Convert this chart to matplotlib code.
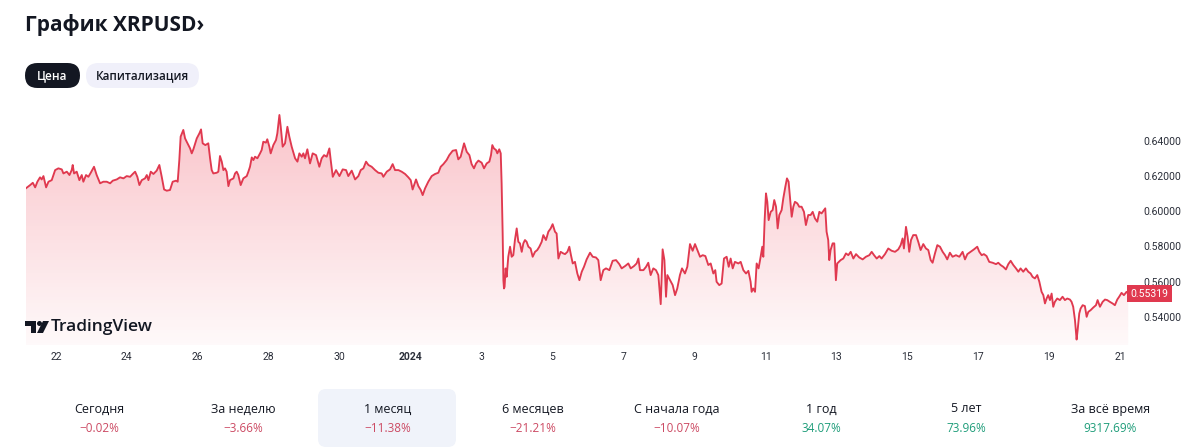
import numpy as np
import matplotlib
matplotlib.use("Agg")
import matplotlib.pyplot as plt
from matplotlib.patches import FancyBboxPatch, Polygon, Circle
from matplotlib import font_manager

# hours since 2023-12-21 00:00 and XRPUSD price
hours = [3.8, 6.6, 8.4, 10.0, 11.5, 13.3, 14.4, 15.6, 17.4, 19.0, 21.2, 23.5, 25.7, 28.0, 29.1, 31.4, 33.2, 34.7,
         35.4, 36.3, 38.1, 39.9, 41.5, 42.6, 44.4, 46.0, 47.6, 49.8, 51.6, 53.9, 56.1, 58.4, 60.7, 62.5, 65.2, 67.4,
         69.7, 71.9, 74.2, 76.0, 77.6, 79.1, 80.5, 82.1, 84.3, 85.5, 86.6, 88.2, 90.0, 92.2, 94.0, 95.6, 97.2, 99.0,
         101.2, 103.0, 105.3, 106.4, 107.5, 108.4, 110.2, 111.4, 112.5, 114.8, 115.9, 117.0, 119.3, 121.1, 122.2,
         123.3, 125.1, 127.1, 128.3, 129.4, 130.5, 132.8, 133.9, 135.0, 136.2, 137.3, 138.4, 139.5, 140.7, 141.8,
         144.1, 145.2, 146.3, 147.4, 149.0, 150.8, 153.1, 154.2, 155.3, 156.5, 157.6, 158.7, 160.3, 162.1, 163.2,
         164.3, 166.1, 167.0, 168.4, 169.3, 171.1, 172.9, 173.8, 175.2, 176.1, 177.4, 179.0, 180.6, 181.9, 183.5,
         185.8, 187.4, 188.7, 190.3, 191.4, 192.5, 194.1, 195.9, 197.7, 200.0, 202.2, 203.8, 205.4, 207.2, 209.0,
         209.9, 211.3, 213.5, 215.8, 218.0, 220.3, 221.8, 224.1, 226.4, 228.6, 230.2, 232.0, 233.8, 235.4, 237.6,
         239.9, 242.1, 244.4, 245.5, 247.8, 250.0, 251.8, 253.4, 255.7, 257.9, 260.2, 262.4, 264.0, 265.3, 267.6,
         269.2, 270.8, 272.1, 273.7, 275.9, 278.2, 280.5, 282.7, 284.3, 286.1, 288.3, 290.1, 292.4, 294.7, 296.2,
         297.8, 300.1, 301.9, 303.7, 305.2, 306.8, 308.2, 309.8, 312.0, 313.6, 315.4, 317.2, 318.3, 319.2, 320.3,
         321.7, 322.6, 323.9, 324.9, 325.5, 326.2, 326.7, 327.1, 327.5, 328.2, 328.9, 330.0, 331.2, 332.3, 333.4,
         334.5, 335.7, 336.8, 337.9, 339.1, 340.2, 341.3, 342.4, 343.6, 345.1, 346.5, 348.1, 349.6, 351.0, 352.6,
         353.7, 355.5, 357.1, 358.7, 360.0, 361.6, 362.7, 363.9, 365.4, 367.2,
         368.4, 370.0, 371.3, 372.4, 373.6, 375.1, 376.7, 378.1, 379.7, 381.2, 383.0, 385.3, 387.1, 389.3, 390.9,
         392.5, 394.3, 396.1, 398.4, 400.6, 402.9, 405.1, 406.7, 409.0, 411.2, 412.8, 415.0, 416.8, 418.0, 419.1,
         421.4, 423.2, 424.7, 426.3, 428.1, 429.9, 431.5, 433.1, 434.4, 435.6, 436.7, 437.6, 439.4, 441.2, 442.8,
         444.3, 446.1, 447.5, 449.5, 451.1, 452.9, 454.7, 456.3, 457.9, 459.7, 461.5, 463.3, 465.3, 466.9, 468.7,
         470.0, 470.9, 472.7, 474.3, 475.9, 477.7, 479.1, 480.4, 481.8, 483.3, 485.6, 487.2, 489.0, 490.8, 492.4,
         493.9, 494.6, 495.7, 496.9, 498.0, 499.3, 500.7, 501.8, 502.5, 503.4, 504.3, 505.2, 506.1, 507.5, 508.8,
         509.9, 511.1, 512.2, 513.3, 514.9, 516.0, 517.4, 518.5, 519.6, 520.5, 521.7, 522.8, 523.9, 525.5, 526.8,
         528.4, 530.0, 531.3, 532.9, 534.5, 535.9, 537.4, 539.0, 540.4, 541.9, 543.5, 544.4, 545.3, 546.4, 547.1,
         548.0, 549.4, 550.5, 551.6, 552.5,
         554.8, 556.6, 558.4, 560.0, 561.6, 563.4, 565.2, 567.4, 569.7, 571.9, 574.2, 575.8, 577.4, 579.2, 581.0,
         582.5, 584.8, 587.0, 589.3, 591.6, 593.8, 595.4, 596.7, 597.6, 599.0, 600.1, 601.2, 602.4, 603.9, 605.8,
         607.3, 608.9, 610.7, 612.5, 614.1, 615.7, 617.0, 618.6, 620.2, 622.0, 623.8, 625.4, 626.9, 628.7, 630.5,
         632.8, 635.1, 637.3, 638.9, 640.5, 642.7, 645.0, 647.2, 648.6, 650.2, 651.7, 653.5, 655.3, 657.6, 659.9,
         661.4, 663.0, 664.8, 666.6, 668.2, 669.8, 671.6, 673.4, 675.0, 676.5, 678.3, 680.1, 681.7, 683.3, 684.6,
         686.2, 687.8, 689.2, 690.7, 691.9, 693.0, 694.1, 695.2, 696.4, 697.5, 698.6, 699.7, 701.3, 703.1, 704.9,
         706.5, 708.1, 709.9, 711.0, 712.1, 713.3, 714.4, 715.1, 716.2, 717.1, 718.5, 720.0, 721.2, 722.3, 723.9,
         725.7, 727.5, 728.6, 730.2, 732.0, 733.6, 735.1, 736.9, 738.7, 740.3, 741.9, 743.2, 744.8, 746.4, 748.2,
         749.3]

price = [.6130, .6148, .6161, .6135, .6167, .6192, .6180, .6199, .6135, .6167, .6176, .6233, .6243, .6237, .6214,
         .6224, .6205, .6233, .6262, .6214, .6224, .6176, .6205, .6167, .6205, .6195, .6218, .6252, .6205, .6158,
         .6167, .6167, .6158, .6173, .6180, .6192, .6186, .6199, .6195, .6211, .6224, .6195, .6148, .6176, .6186,
         .6205, .6176, .6224, .6211, .6230, .6262, .6195, .6123, .6116, .6120, .6167, .6173, .6167, .6290, .6423,
         .6461, .6413, .6394, .6356, .6328, .6351, .6413, .6442, .6464, .6385, .6375, .6385, .6300, .6233, .6214,
         .6218, .6224, .6313, .6281, .6233, .6243, .6224, .6142, .6176, .6186, .6214, .6224, .6205, .6148, .6186,
         .6199, .6224, .6252, .6305, .6290, .6309, .6300, .6328, .6347, .6394, .6389, .6408, .6366, .6328, .6375,
         .6404, .6442, .6546, .6479, .6366, .6385, .6479, .6423, .6366,
         .6300, .6281, .6328, .6309, .6328, .6300, .6351, .6271, .6328, .6318, .6252, .6300, .6318, .6309, .6356,
         .6290, .6195, .6233, .6199, .6237, .6233, .6199, .6230, .6180, .6199, .6233, .6243, .6281, .6262, .6252,
         .6233, .6218, .6214, .6195, .6224, .6237, .6267, .6233, .6233, .6224, .6211, .6192, .6176, .6123, .6180,
         .6142, .6120, .6091, .6129, .6167, .6199, .6211, .6218, .6252, .6267, .6290, .6318, .6343, .6347, .6294,
         .6309, .6385, .6337, .6318, .6267, .6243, .6271, .6287, .6275, .6243, .6271, .6281, .6318, .6375, .6356,
         .6347, .6328, .6351, .6328, .6158, .5873, .5608, .5561, .5570, .5675, .5627, .5741, .5798, .5741, .5750,
         .5836, .5902, .5826, .5817, .5769, .5817, .5836, .5826, .5798, .5788, .5741, .5769, .5779, .5798, .5826,
         .5864, .5836, .5883, .5902, .5926, .5883, .5873, .5731, .5769, .5760,
         .5756, .5769, .5798, .5750, .5703, .5712, .5646, .5608, .5656, .5684, .5726, .5764, .5741, .5737, .5722,
         .5608, .5665, .5675, .5665, .5718, .5722, .5699, .5675, .5688, .5703, .5675, .5688, .5703, .5731, .5665,
         .5665, .5684, .5707, .5637, .5675, .5665, .5637, .5472, .5783, .5722, .5514, .5637, .5608, .5580, .5523,
         .5561, .5637, .5675, .5646, .5684, .5813, .5775, .5813, .5779, .5741, .5750, .5745, .5694, .5703, .5646,
         .5665, .5599, .5580, .5589, .5731, .5741, .5684, .5731, .5675, .5712, .5703, .5712, .5665, .5646, .5661,
         .5599, .5542, .5561, .5542, .5703, .5675, .5741, .5798, .5741, .5949, .6101, .6053, .5949, .5996, .6006,
         .6063, .6025, .5902, .5978, .6006, .6072, .6139, .6186, .6167, .6082, .5968, .6025, .6053, .6044, .6025,
         .6025, .5996, .5921, .5978, .5978, .5996, .5959, .5940, .5996, .5987, .6006, .6016, .5883, .5836, .5722,
         .5779, .5817, .5817, .5608, .5703,
         .5722, .5731, .5760, .5750, .5769, .5731, .5756, .5737, .5726, .5741, .5750, .5769, .5750, .5731, .5745,
         .5731, .5756, .5788, .5775, .5769, .5783, .5807, .5845, .5788, .5911, .5854, .5769, .5836, .5864, .5864,
         .5826, .5779, .5813, .5788, .5779, .5722, .5707, .5760, .5807, .5798, .5769, .5750, .5726, .5764, .5741,
         .5750, .5741, .5769, .5726, .5756, .5769, .5783, .5798, .5769, .5750, .5756, .5745, .5712, .5707, .5699,
         .5707, .5694, .5684, .5669, .5699, .5718, .5694, .5675, .5656, .5675, .5656, .5675, .5656, .5646, .5627,
         .5618, .5637, .5599, .5542, .5523, .5476, .5504, .5523, .5495, .5532, .5457, .5485, .5504, .5495, .5514,
         .5495, .5504, .5498, .5485, .5457, .5381, .5271, .5324, .5419, .5447, .5466, .5461, .5400, .5428, .5438,
         .5453, .5466, .5495, .5457, .5485, .5498, .5495, .5485, .5476, .5466, .5498, .5514, .5536, .5523, .5542,
         .5532]

last_price = "0.55319"
y_ticks = [0.54, 0.56, 0.58, 0.60, 0.62, 0.64]
x_tick_hours = [24, 72, 120, 168, 216, 264, 312, 360, 408, 456, 504, 552, 600, 648, 696, 744]
x_tick_labels = ["22", "24", "26", "28", "30", "2024", "3", "5", "7", "9", "11", "13", "15", "17", "19", "21"]

periods = ["Сегодня", "За неделю", "1 месяц", "6 месяцев", "С начала года", "1 год", "5 лет", "За всё время"]
changes = [-0.02, -3.66, -11.38, -21.21, -10.07, 34.07, 73.96, 9317.69]

names = {f.name for f in font_manager.fontManager.ttflist}
ui_font = ["Open Sans", "DejaVu Sans"] if "Open Sans" in names else ["DejaVu Sans"]
tick_font = ["Liberation Sans Narrow", "DejaVu Sans"] if "Liberation Sans Narrow" in names else ["Roboto", "DejaVu Sans"]
plt.rcParams["font.family"] = ui_font

W, H = 1200, 447
red = "#e0394f"
fig = plt.figure(figsize=(W / 100, H / 100), dpi=100)
fig.patch.set_facecolor("white")

# chart area in pixels: x 26..1135, y 100..345
ax = fig.add_axes([26 / W, 1 - 345 / H, (1135 - 26) / W, 245 / H])
ax.set_facecolor("white")
x0, x1 = 3.8, 753.9
y0, y1 = 0.5240, 0.6631

# gradient fill under the line
grad = np.linspace(0.03, 0.30, 256).reshape(-1, 1)
rgba = np.zeros((256, 1, 4))
rgba[..., 0] = 0.93
rgba[..., 1] = 0.22
rgba[..., 2] = 0.30
rgba[..., 3] = grad
poly = ax.fill_between(hours, price, y0, facecolor="none", edgecolor="none")
img = ax.imshow(rgba, extent=[x0, x1, y0, 0.655], origin="lower", aspect="auto", zorder=1)
img.set_clip_path(poly.get_paths()[0], transform=ax.transData)
ax.set_xlim(x0, x1)
ax.set_ylim(y0, y1)

ax.plot(hours, price, color=red, lw=1.35, zorder=3, solid_joinstyle="round")

for s in ax.spines.values():
    s.set_visible(False)
ax.yaxis.tick_right()
ax.set_yticks(y_ticks)
ax.set_yticklabels([f"{v:.5f}" for v in y_ticks], fontsize=7.5, color="#2a2e39", family=tick_font)
ax.tick_params(axis="y", length=0, pad=6)
ax.set_xticks(x_tick_hours)
ax.set_xticklabels(x_tick_labels, fontsize=7.5, color="#2a2e39", family=tick_font)
ax.tick_params(axis="x", length=0, pad=5)
for lab in ax.get_xticklabels():
    if lab.get_text() == "2024":
        lab.set_fontweight("bold")

# last price label
ax.annotate(last_price, xy=(1, float(last_price)), xycoords=("axes fraction", "data"),
            xytext=(-3, 0), textcoords="offset points", ha="left", va="center",
            fontsize=7.5, color="white", family=tick_font,
            bbox=dict(boxstyle="square,pad=0.35", fc=red, ec="none"), zorder=5)

# header
fig.text(25 / W, 1 - 25 / H, "График XRPUSD›", fontsize=15, fontweight="bold",
         color="#131722", va="center", ha="left")

def pill(xa, xb, ya, yb, fc):
    p = FancyBboxPatch((xa, H - yb), xb - xa, yb - ya, boxstyle="round,pad=0,rounding_size=12.5",
                       fc=fc, ec="none", transform=None, figure=fig)
    fig.patches.append(p)

pill(25, 80, 63, 88, "#131722")
pill(86, 199, 63, 88, "#f0f0fa")
fig.text(52.5 / W, 1 - 75.5 / H, "Цена", fontsize=8.5, color="white", ha="center", va="center",
         fontweight="semibold")
fig.text(142.5 / W, 1 - 75.5 / H, "Капитализация", fontsize=8.5, color="#131722", ha="center",
         va="center", fontweight="semibold")

# TradingView logo
logo = [Polygon([(25, H - 321), (36, H - 321), (36, H - 333), (31, H - 333), (31, H - 326), (25, H - 326)],
                closed=True, transform=None),
        Circle((39.5, H - 323.5), 2.5, transform=None),
        Polygon([(43, H - 321), (49, H - 321), (43, H - 333), (37, H - 333)], closed=True, transform=None)]
for p in logo:
    p.set_facecolor("#131722")
    p.set_edgecolor("none")
    fig.patches.append(p)
fig.text(51 / W, 1 - 327 / H, "TradingView", fontsize=12.5, color="#131722", ha="left", va="center",
         fontweight="semibold")

# period stats row
hl = FancyBboxPatch((318, 0), 138, H - 389, boxstyle="round,pad=0,rounding_size=8",
                    fc="#f0f3fa", ec="none", transform=None, figure=fig)
fig.patches.append(hl)
for i, (name, val) in enumerate(zip(periods, changes)):
    cx = 99 + i * 144.5
    fig.text(cx / W, 1 - 409 / H, name, fontsize=9, color="#131722", ha="center", va="center")
    txt = f"{val:.2f}%".replace("-", "−")
    col = "#cc4a63" if val < 0 else "#1f9d7a"
    fig.text(cx / W, 1 - 428 / H, txt, fontsize=8.5, color=col, ha="center", va="center")

fig.savefig("out.png", dpi=100)
